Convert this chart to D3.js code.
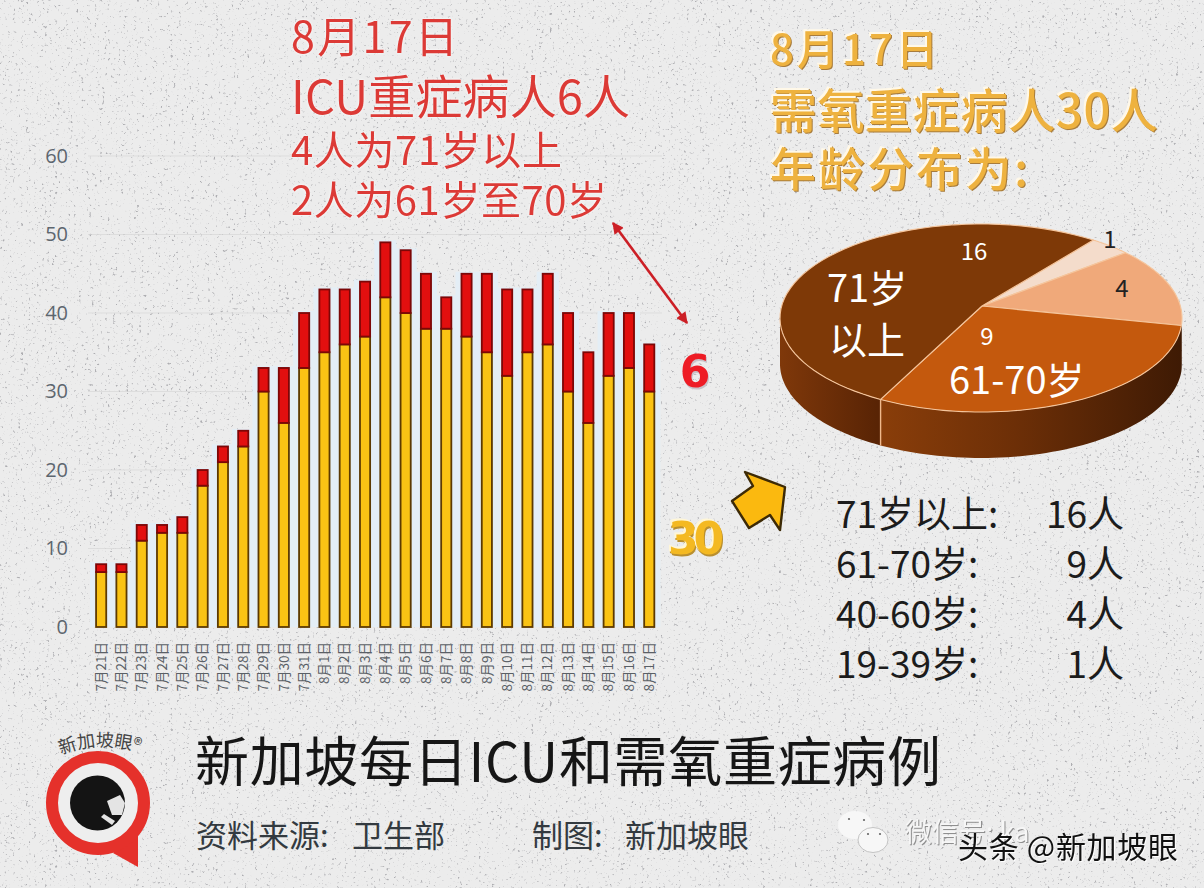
<!DOCTYPE html>
<html>
<head>
<meta charset="utf-8">
<script src="https://d3js.org/d3.v7.min.js"></script>
<style>
html, body { margin: 0; padding: 0; background: #ebebeb; }
svg { display: block; }
text { font-family: "Noto Sans CJK SC", "Noto Sans", sans-serif; }
</style>
</head>
<body>
<svg id="chart" width="1204" height="888"></svg>
<script>
// daily counts
const dates = ["7月21日","7月22日","7月23日","7月24日","7月25日","7月26日","7月27日","7月28日","7月29日","7月30日","7月31日",
    "8月1日","8月2日","8月3日","8月4日","8月5日","8月6日","8月7日","8月8日","8月9日","8月10日","8月11日","8月12日","8月13日","8月14日","8月15日","8月16日","8月17日"];
const oxygen = [7,7,11,12,12,18,21,23,30,26,33,35,36,37,42,40,38,38,37,35,32,35,36,30,26,32,33,30];
const icu = [1,1,2,1,2,2,2,2,3,7,7,8,7,7,7,8,7,4,8,10,11,8,9,10,9,8,7,6];
const yTicks = [0,10,20,30,40,50,60];

const ageGroups = ["19-39岁","40-60岁","61-70岁","71岁以上"];
const ageCounts = [1,4,9,16];
const ageColors = ["#f4dccb","#f0a97a","#c4590d","#7e3907"];
const ageInk = ["#222","#222","#fff","#fff"];

const tableLabels = ["71岁以上:","61-70岁:","40-60岁:","19-39岁:"];
const tableValues = ["16人","9人","4人","1人"];

const svg = d3.select("#chart");
const defs = svg.append("defs");

// paper texture
const speck = defs.append("filter").attr("id", "speck").attr("x", 0).attr("y", 0).attr("width", "100%").attr("height", "100%");
speck.append("feTurbulence").attr("type", "fractalNoise").attr("baseFrequency", 0.38).attr("numOctaves", 3).attr("seed", 7);
speck.append("feColorMatrix").attr("type", "matrix")
    .attr("values", "0 0 0 0 0.42  0 0 0 0 0.42  0 0 0 0 0.44  3.4 3.4 0 0 -4.05");
svg.append("rect").attr("width", 1204).attr("height", 888).attr("fill", "#ececec");
svg.append("rect").attr("width", 1204).attr("height", 888).attr("filter", "url(#speck)");

// ---- bars
const x = d3.scaleBand().domain(dates).range([91, 659.4]).paddingInner(0.5).paddingOuter(0.25);
const y = d3.scaleLinear().domain([0, 60]).range([627, 156]);
const bw = x.bandwidth();

svg.append("g").selectAll("line").data(yTicks.slice(1)).join("line")
    .attr("x1", 88).attr("x2", 662)
    .attr("y1", d => y(d)).attr("y2", d => y(d))
    .attr("stroke", "#cfcfcf").attr("stroke-width", 1).attr("opacity", 0.5);

const bars = svg.append("g").selectAll("g").data(dates).join("g");
// pale halo round each column
bars.append("rect")
    .attr("x", d => x(d) - 6).attr("width", bw + 12)
    .attr("y", (d, i) => y(oxygen[i] + icu[i]) - 2)
    .attr("height", (d, i) => y(0) - y(oxygen[i] + icu[i]) + 2)
    .attr("fill", "#e4eef6");
bars.append("rect")
    .attr("x", d => x(d)).attr("width", bw)
    .attr("y", (d, i) => y(oxygen[i]))
    .attr("height", (d, i) => y(0) - y(oxygen[i]))
    .attr("fill", "#fac314").attr("stroke", "#5c3a02").attr("stroke-width", 1.8);
bars.append("rect")
    .attr("x", d => x(d)).attr("width", bw)
    .attr("y", (d, i) => y(oxygen[i] + icu[i]))
    .attr("height", (d, i) => y(oxygen[i]) - y(oxygen[i] + icu[i]))
    .attr("fill", "#e20f0f").attr("stroke", "#7c0707").attr("stroke-width", 1.8);

const xAxis = svg.append("g").attr("transform", "translate(0,633)")
    .call(d3.axisBottom(x).tickSize(0).tickPadding(0));
xAxis.select(".domain").remove();
xAxis.selectAll("text")
    .attr("transform", "rotate(-90)")
    .attr("text-anchor", "end")
    .attr("x", -9).attr("y", 0).attr("dy", "0.35em")
    .attr("fill", "#5a6066")
    .style("font-size", "13.5px");

const yAxis = svg.append("g").attr("transform", "translate(68,0)")
    .call(d3.axisLeft(y).tickValues(yTicks).tickSize(0).tickPadding(0));
yAxis.select(".domain").remove();
yAxis.selectAll("text")
    .attr("fill", "#5d666f")
    .style("font-family", "'Open Sans', sans-serif")
    .style("font-size", "20px");

// ---- 3D pie
const cx = 981, cy = 318, rx = 201, ry = 94, depth = 46;
const apex = [982, 306];
const deg = Math.PI / 180;
// front of the pie looks bigger in perspective
const warp = t => t + 8.6 * deg * Math.max(0, Math.sin(t));
const rim = (t, dy) => {
    const w = warp(t);
    return [cx + rx * Math.cos(w), cy + ry * Math.sin(w) + (dy || 0)];
};
const arcPoints = (t0, t1, dy) => d3.range(0, 61).map(i => rim(t0 + (t1 - t0) * i / 60, dy));
const line = d3.line();

const slices = d3.pie().sort(null).startAngle(34 * deg).endAngle(394 * deg)(ageCounts)
    .map(s => ({ t0: s.startAngle - Math.PI / 2, t1: s.endAngle - Math.PI / 2, i: s.index }));

function grad(id, x1, x2, stops) {
    const g = defs.append("linearGradient").attr("id", id).attr("gradientUnits", "userSpaceOnUse")
        .attr("x1", x1).attr("x2", x2).attr("y1", 0).attr("y2", 0);
    stops.forEach(s => g.append("stop").attr("offset", s[0]).attr("stop-color", s[1]));
}
grad("wallLeft", 780, 877, [[0, "#7f380a"], [1, "#592405"]]);
grad("wallRight", 877, 1182, [[0, "#8a3e0a"], [0.45, "#6d2f07"], [1, "#3e1a04"]]);
const wallFill = ["#3e1a04", "#3e1a04", "url(#wallRight)", "url(#wallLeft)"];

// walls: only the front half of the rim shows
svg.append("g").selectAll("path").data(slices.filter(s => s.t1 > 0 && s.t0 < Math.PI)).join("path")
    .attr("d", s => {
        const a = Math.max(s.t0, 0), b = Math.min(s.t1, Math.PI);
        return line(arcPoints(a, b).concat(arcPoints(a, b, depth).reverse())) + "Z";
    })
    .attr("fill", s => wallFill[s.i]);

svg.append("g").selectAll("path").data(slices).join("path")
    .attr("d", s => line([apex].concat(arcPoints(s.t0, s.t1))) + "Z")
    .attr("fill", s => ageColors[s.i])
    .attr("stroke", "#f5c59c").attr("stroke-width", 1.1).attr("stroke-linejoin", "round");

// seam between the two front walls
const seam = rim(slices[3].t0);
svg.append("line").attr("x1", seam[0]).attr("y1", seam[1]).attr("x2", seam[0]).attr("y2", seam[1] + depth)
    .attr("stroke", "#f0b98c").attr("stroke-width", 1.4);

const pieNums = [[1110, 248], [1122, 297], [987, 345], [974, 260]];
svg.append("g").selectAll("text").data(ageCounts).join("text")
    .attr("x", (d, i) => pieNums[i][0]).attr("y", (d, i) => pieNums[i][1])
    .attr("text-anchor", "middle").attr("fill", (d, i) => ageInk[i])
    .style("font-size", "24px")
    .text(d => d);

const pieTags = [["71岁", 827, 302], ["以上", 829, 354], ["61-70岁", 949, 394]];
svg.append("g").selectAll("text").data(pieTags).join("text")
    .attr("x", d => d[1]).attr("y", d => d[2])
    .attr("fill", "#fff").style("font-size", "38px")
    .text(d => d[0]);

// ---- headings
const redNotes = [["8月17日", 291, 53, 43, 167], ["ICU重症病人6人", 291, 114, 47, 339], ["4人为71岁以上", 291, 165, 40, 271], ["2人为61岁至70岁", 291, 215, 40, 316]];
svg.append("g").style("filter", "drop-shadow(0 0 1.5px #fff)")
    .selectAll("text").data(redNotes).join("text")
    .attr("x", d => d[1]).attr("y", d => d[2]).style("font-size", d => d[3] + "px")
    .attr("textLength", d => d[4])
    .attr("fill", "#dc3a36").text(d => d[0]);

const goldNotes = [["8月17日", 770, 65, 42, 168], ["需氧重症病人30人", 770, 128, 47, 388], ["年龄分布为:", 770, 186, 46, 258]];
svg.append("g").style("filter", "drop-shadow(-1.5px -1.5px 0 #fff8e8) drop-shadow(1.5px 1.5px 0 #a87c3c)")
    .selectAll("text").data(goldNotes).join("text")
    .attr("x", d => d[1]).attr("y", d => d[2]).style("font-size", d => d[3] + "px")
    .attr("textLength", d => d[4]).attr("font-weight", 500)
    .attr("fill", "#eeb23f").text(d => d[0]);

// ---- pointers
defs.append("marker").attr("id", "redHead").attr("viewBox", "0 0 10 10").attr("refX", 9).attr("refY", 5)
    .attr("markerWidth", 5).attr("markerHeight", 4.4).attr("orient", "auto-start-reverse")
    .append("path").attr("d", "M0,0L10,5L0,10Z").attr("fill", "#cc1f26");
svg.append("line").attr("x1", 613).attr("y1", 223).attr("x2", 687).attr("y2", 323)
    .attr("stroke", "#cc1f26").attr("stroke-width", 2.6)
    .attr("marker-start", "url(#redHead)").attr("marker-end", "url(#redHead)");

svg.append("polygon")
    .attr("points", "745,472 785,487 780,530 770,515 749,528 732,501 753,486")
    .attr("fill", "#fbb90f").attr("stroke", "#3d2a06").attr("stroke-width", 2.4).attr("stroke-linejoin", "round");

svg.append("text").attr("x", 695).attr("y", 387).attr("text-anchor", "middle")
    .style("filter", "drop-shadow(1.5px 2px 0 #c9c2c8)")
    .attr("fill", "#ee1c25").style("font-family", "'DejaVu Sans'").style("font-weight", 700).style("font-size", "44px")
    .text(icu[icu.length - 1]);
svg.append("text").attr("x", 696).attr("y", 554).attr("text-anchor", "middle")
    .style("filter", "drop-shadow(-1.5px -1.5px 0 #fff6d6) drop-shadow(1.5px 2px 0 #b98f2f)")
    .attr("fill", "#f4b922").style("font-family", "'DejaVu Sans'").style("font-weight", 700).style("font-size", "44px")
    .attr("textLength", 56)
    .text(oxygen[oxygen.length - 1]);

// ---- table under the pie
const rowY = d3.scalePoint().domain(d3.range(4)).range([528, 678]);
svg.append("g").selectAll("text").data(tableLabels).join("text")
    .attr("x", 836).attr("y", (d, i) => rowY(i))
    .attr("fill", "#1c1c1c").style("font-size", "37px").text(d => d);
svg.append("g").selectAll("text").data(tableValues).join("text")
    .attr("x", 1124).attr("y", (d, i) => rowY(i)).attr("text-anchor", "end")
    .attr("fill", "#1c1c1c").style("font-size", "37px").text(d => d);

// ---- footer
svg.append("text").attr("x", 195).attr("y", 782).attr("textLength", 746)
    .attr("fill", "#161616").style("font-size", "54px").text("新加坡每日ICU和需氧重症病例");
const credits = [["资料来源:", 196], ["卫生部", 352], ["制图:", 532], ["新加坡眼", 625]];
svg.append("g").selectAll("text").data(credits).join("text")
    .attr("x", d => d[1]).attr("y", 847)
    .attr("fill", "#333a40").style("font-size", "31px").text(d => d[0]);

// logo
const logo = svg.append("g");
logo.append("polygon").attr("points", "113,853 138,867 138,833").attr("fill", "#e5312b");
logo.append("circle").attr("cx", 98).attr("cy", 803).attr("r", 46).attr("fill", "#eeeeee").attr("stroke", "#e5312b").attr("stroke-width", 12);
logo.append("circle").attr("cx", 97.5).attr("cy", 803).attr("r", 27.5).attr("fill", "#141414");
logo.append("polygon").attr("points", "107,801 120,795 125,803 122,815 112,815").attr("fill", "#e4e4e4");
logo.append("polygon").attr("points", "101,817 104,814 115,821 112,825").attr("fill", "#e4e4e4");
defs.append("path").attr("id", "logoArc").attr("d", "M61,755 Q100,738 152,756");
logo.append("text").attr("fill", "#444").style("font-size", "18px")
    .append("textPath").attr("href", "#logoArc").attr("startOffset", 0).text("新加坡眼®");

// watermarks
const wm = svg.append("g");
wm.append("ellipse").attr("cx", 855).attr("cy", 825).attr("rx", 17).attr("ry", 14).attr("fill", "#f7f7f7");
wm.append("ellipse").attr("cx", 873).attr("cy", 840).attr("rx", 15).attr("ry", 12.5).attr("fill", "#f7f7f7").attr("stroke", "#b8b8b8").attr("stroke-width", 0.8);
[[849, 819], [864, 820], [868, 834], [880, 834]].forEach(p =>
    wm.append("circle").attr("cx", p[0]).attr("cy", p[1]).attr("r", 1.1).attr("fill", "#666"));
wm.append("text").attr("x", 905).attr("y", 842).attr("fill", "#f6f6f6")
    .style("filter", "drop-shadow(1px 1px 0 #8f8f8f)").style("font-size", "27px").text("微信号: ka");
wm.append("text").attr("x", 958).attr("y", 858).attr("fill", "#111")
    .style("filter", "drop-shadow(1.3px 1.3px 0 #fff)").attr("textLength", 220).style("font-size", "30px").text("头条 @新加坡眼");
</script>
</body>
</html>
